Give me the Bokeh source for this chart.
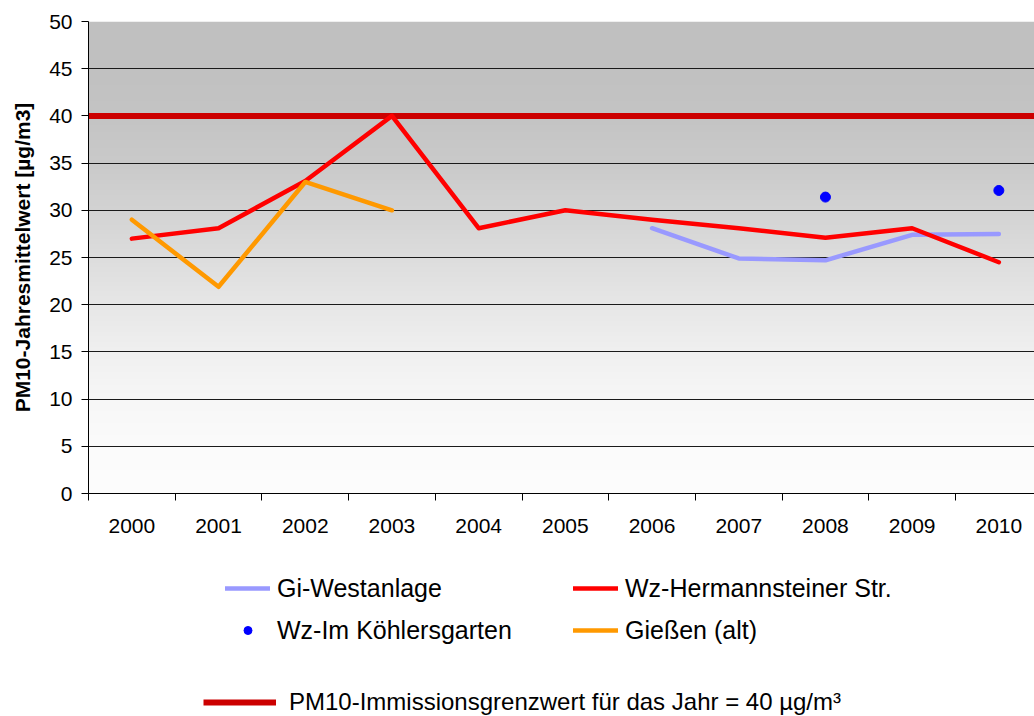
import numpy as np
from bokeh.plotting import figure
from bokeh.layouts import column
from bokeh.models import Range1d, FixedTicker, Legend, LegendItem
from bokeh.embed import file_html
from bokeh.resources import INLINE

# ---------------- data ----------------
years = [2000, 2001, 2002, 2003, 2004, 2005, 2006, 2007, 2008, 2009, 2010]
year_labels = [str(y) for y in years]

wz_hermannsteiner = [27.0, 28.1, 33.1, 40.0, 28.1, 30.0, 29.0, 28.1, 27.1, 28.1, 24.5]

gi_years = [2006, 2007, 2008, 2009, 2010]
gi_westanlage = [28.1, 24.9, 24.7, 27.4, 27.5]

koehler_years = [2008, 2010]
wz_koehlersgarten = [31.4, 32.1]

giessen_years = [2000, 2001, 2002, 2003]
giessen_alt = [29.0, 21.9, 33.0, 30.0]

limit_value = 40
y_ticks = [0, 5, 10, 15, 20, 25, 30, 35, 40, 45, 50]

FONT = "Liberation Sans"

STYLE_GI = dict(line_color="#9999FF", line_width=4.5, line_join="round", line_cap="round")
STYLE_WZ = dict(line_color="#FF0000", line_width=4.5, line_join="round", line_cap="round")
STYLE_GIE = dict(line_color="#FF9900", line_width=4.5, line_join="round", line_cap="round")
STYLE_DOT = dict(marker="circle", fill_color="#0000FF", line_color="#0000FF")
STYLE_LIM = dict(line_color="#CC0000", line_width=6)

# ---------------- main figure ----------------
x_lo = years[0] - 0.5
x_hi = x_lo + 946 / 86.7
p = figure(width=1034, height=550, output_backend="svg", toolbar_location=None,
           x_range=Range1d(x_lo, x_hi), y_range=Range1d(0, 50),
           min_border_left=88, min_border_right=0, min_border_top=21, min_border_bottom=57)
p.outline_line_color = None
p.background_fill_color = "white"
p.border_fill_color = "white"

# background gradient (grey at top -> white at bottom)
N = 500
lev = np.linspace(0, 50, N)
grey = np.interp(lev, [0, 5, 10, 15, 20, 25, 30, 35, 40, 45, 50],
                 [253, 251, 247, 240, 231, 221, 211, 202, 196, 193, 192]).astype(np.uint8)
img = np.empty((N, 1), dtype=np.uint32)
view = img.view(dtype=np.uint8).reshape((N, 1, 4))
view[:, 0, 0] = grey
view[:, 0, 1] = grey
view[:, 0, 2] = grey
view[:, 0, 3] = 255
p.image_rgba(image=[img], x=x_lo, y=0, dw=x_hi - x_lo, dh=50, level="image")

# grid
p.xgrid.visible = False
p.ygrid.ticker = FixedTicker(ticks=y_ticks)
p.ygrid.grid_line_color = "#1a1a1a"
p.ygrid.grid_line_width = 1
p.ygrid.level = "image"

# axes
p.yaxis.ticker = FixedTicker(ticks=y_ticks)
p.yaxis.axis_label = "PM10-Jahresmittelwert [µg/m3]"
p.yaxis.axis_label_text_font = FONT
p.yaxis.axis_label_text_font_style = "bold"
p.yaxis.axis_label_text_font_size = "21px"
p.yaxis.axis_label_text_color = "black"
p.yaxis.axis_label_standoff = 12
p.yaxis.major_label_text_font = FONT
p.yaxis.major_label_text_font_size = "21px"
p.yaxis.major_label_text_color = "black"
p.yaxis.major_label_standoff = 9
p.yaxis.major_tick_in = 0
p.yaxis.major_tick_out = 7
p.yaxis.minor_tick_line_color = None
p.yaxis.axis_line_color = "black"
p.yaxis.major_tick_line_color = "black"

p.xaxis.ticker = FixedTicker(ticks=years, minor_ticks=[y - 0.5 for y in years] + [years[-1] + 0.5])
p.xaxis.major_label_overrides = {y: s for y, s in zip(years, year_labels)}
p.xaxis.major_tick_in = 0
p.xaxis.major_tick_out = 0
p.xaxis.minor_tick_in = 0
p.xaxis.minor_tick_out = 7
p.xaxis.minor_tick_line_color = "black"
p.xaxis.axis_line_color = "black"
p.xaxis.major_label_text_font = FONT
p.xaxis.major_label_text_font_size = "21px"
p.xaxis.major_label_text_color = "black"
p.xaxis.major_label_standoff = 18

# series
p.line([x_lo, x_hi], [limit_value, limit_value], **STYLE_LIM)
p.line(gi_years, gi_westanlage, **STYLE_GI)
p.line(years, wz_hermannsteiner, **STYLE_WZ)
p.line(giessen_years, giessen_alt, **STYLE_GIE)
p.scatter(koehler_years, wz_koehlersgarten, size=10, **STYLE_DOT)

# ---------------- legend figure (proxy renderers lie outside its ranges) ----------------
lf = figure(width=1034, height=166, output_backend="svg", toolbar_location=None,
            x_range=Range1d(0, 1), y_range=Range1d(0, 1),
            x_axis_location=None, y_axis_location=None, min_border=0)
lf.outline_line_color = None
lf.grid.visible = False
lf.background_fill_color = "white"
lf.border_fill_color = "white"

l_gi = lf.line(gi_years, gi_westanlage, **STYLE_GI)
l_wz = lf.line(years, wz_hermannsteiner, **STYLE_WZ)
l_gie = lf.line(giessen_years, giessen_alt, **STYLE_GIE)
l_dot = lf.scatter(koehler_years, wz_koehlersgarten, size=10, **STYLE_DOT)
l_lim = lf.line(years, [limit_value] * len(years), **STYLE_LIM)

common = dict(padding=0, margin=0, border_line_color=None, background_fill_alpha=0,
              label_text_font=FONT, label_text_color="black")

# location = bottom-left corner, relative to the (frame-aligned) legend area
leg1 = Legend(items=[
    LegendItem(label="Gi-Westanlage", renderers=[l_gi]),
    LegendItem(label="Wz-Im Köhlersgarten", renderers=[l_dot]),
    LegendItem(label="Wz-Hermannsteiner Str.", renderers=[l_wz]),
    LegendItem(label="Gießen (alt)", renderers=[l_gie]),
], location=(137, 68), orientation="vertical", ncols=2,
    glyph_width=45, glyph_height=20, label_standoff=7, label_width=290,
    label_height=36, spacing=6, label_text_font_size="25px", **common)
lf.add_layout(leg1, "center")

leg2 = Legend(items=[
    LegendItem(label="PM10-Immissionsgrenzwert für das Jahr = 40 µg/m³", renderers=[l_lim]),
], location=(115, 0), orientation="vertical",
    glyph_width=73, glyph_height=20, label_standoff=13, label_height=20,
    spacing=0, label_text_font_size="24px", **common)
lf.add_layout(leg2, "center")

layout = column(p, lf, spacing=0)
open("out.html", "w").write(file_html(layout, INLINE))
